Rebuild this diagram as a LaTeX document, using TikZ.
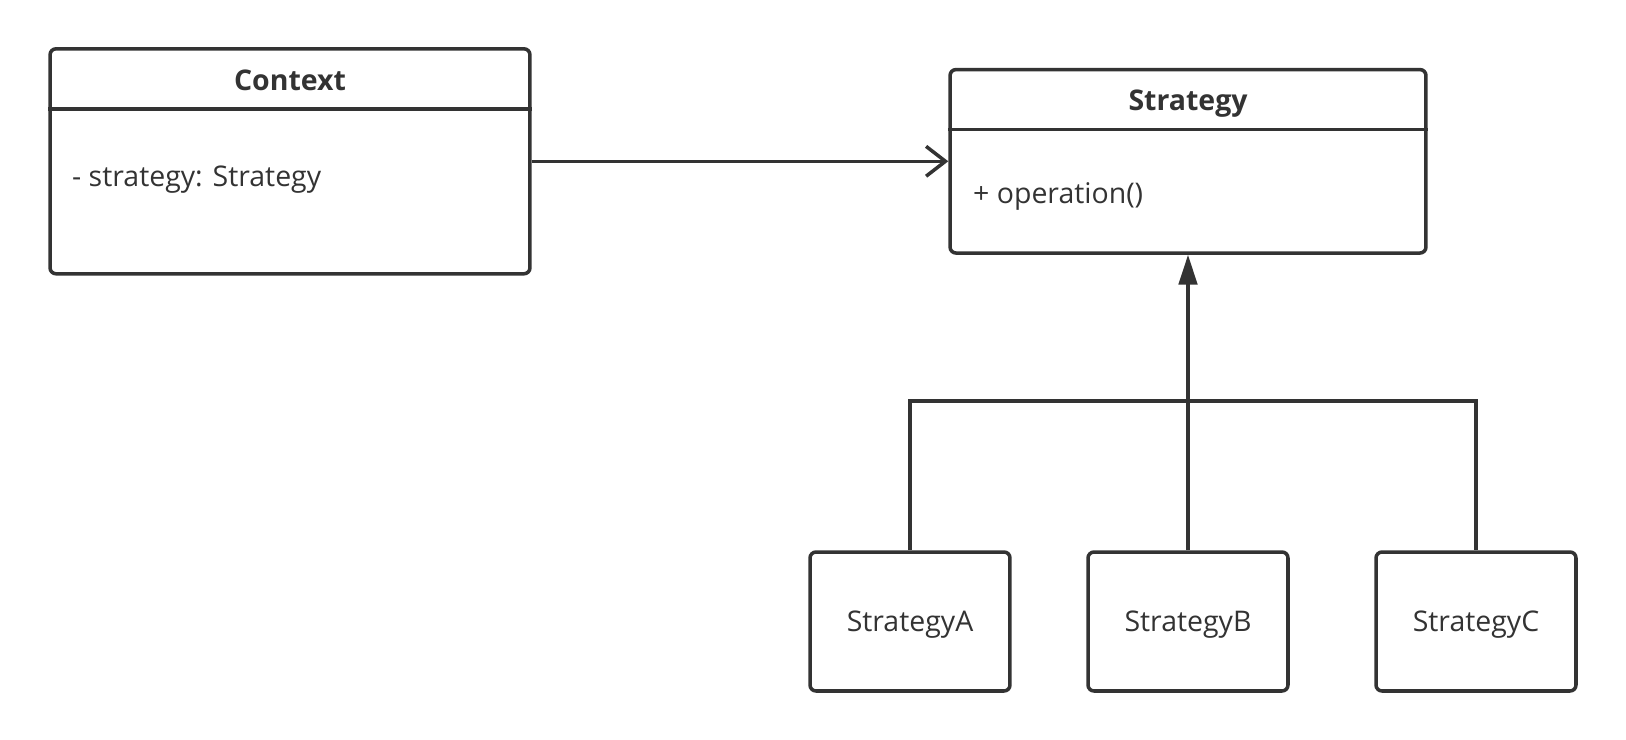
\documentclass[tikz,border=0pt]{standalone}
\usepackage{fontspec}
\setmainfont{Open Sans}
\usetikzlibrary{arrows.meta}
\definecolor{ink}{HTML}{333333}
\tikzset{
  box/.style={draw=ink, line width=2pt, rounded corners=3.4pt, inner sep=0pt},
  txt/.style={text=ink, text depth=0pt, font=\fontsize{16.2}{19}\selectfont},
  title/.style={text=ink, text depth=0pt, font=\fontsize{16.2}{19}\selectfont\bfseries},
  link/.style={draw=ink, line width=2pt}
}
\begin{document}
\begin{tikzpicture}[x=0.02cm, y=-0.02cm]
      \useasboundingbox (0,0) rectangle (1626,740);
      \node[box, minimum width=9.6cm, minimum height=4.5cm] at (290,161.3) (ctx){};
      \node[title] at (290,80) (ctxname){Context};
      \draw[link] (ctx.west |- 0,109) -- (ctx.east |- 0,109);
      \node[txt, anchor=west] at (66,176) (ctxattr){- strategy: Strategy};
      \node[box, minimum width=9.52cm, minimum height=3.67cm] at (1188,161.3) (strat){};
      \node[title] at (1188,100.6) (stratname){Strategy};
      \draw[link] (strat.west |- 0,129.6) -- (strat.east |- 0,129.6);
      \node[txt, anchor=west] at (967,193) (stratop){+ operation()};
      \node[box, txt, minimum width=4cm, minimum height=2.78cm] at (910,621.5) (stA){StrategyA};
      \node[box, txt, minimum width=4cm, minimum height=2.78cm] at (1188,621.5) (stB){StrategyB};
      \node[box, txt, minimum width=4cm, minimum height=2.78cm] at (1476,621.5) (stC){StrategyC};
      \coordinate (fork) at (1188,401);
      \draw[link, -{Straight Barb[length=11pt, width=17pt]}] (ctx.east) -- (strat.west);
      \draw[link, -{Triangle[length=17pt, width=10.5pt]}] (stB.north) -- (strat.south);
      \draw[link] (stA.north) |- (fork) -| (stC.north);
    \end{tikzpicture}
\end{document}
